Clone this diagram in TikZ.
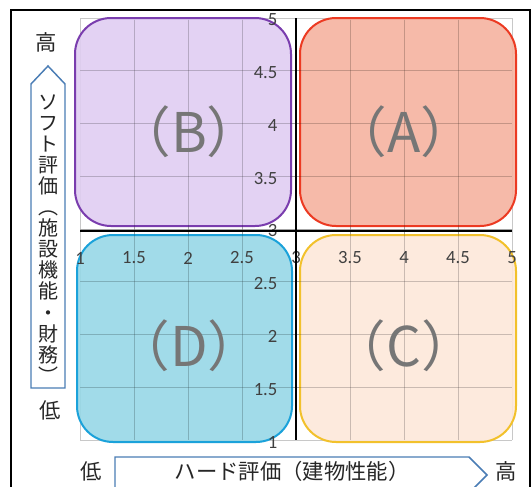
\documentclass[tikz,border=0pt]{standalone}
\usepackage{fontspec}
\setmainfont{Carlito}
\newfontfamily\jpfont{Noto Sans CJK JP}
\usetikzlibrary{positioning}

\definecolor{gridgray}{HTML}{C8C8C8}
\definecolor{tickgray}{HTML}{404040}
\definecolor{labelgray}{HTML}{767676}
\definecolor{arrowblue}{HTML}{4A7DB5}
\definecolor{fillB}{HTML}{E0CEF2}
\definecolor{lineB}{HTML}{7A3DAE}
\definecolor{fillA}{HTML}{F6B3A0}
\definecolor{lineA}{HTML}{EC3A22}
\definecolor{fillD}{HTML}{97D8E7}
\definecolor{lineD}{HTML}{1BA2DA}
\definecolor{fillC}{HTML}{FDE8DA}
\definecolor{lineC}{HTML}{F2C12C}

\begin{document}
\begin{tikzpicture}[x=0.75pt,y=-0.75pt,
    quadbox/.style={line width=1.5pt, rounded corners=27pt, fill opacity=0.9},
    gridline/.style={gridgray, line width=0.6pt},
    quadlabel/.style={text=labelgray, font=\jpfont\fontsize{41}{41}\selectfont},
    ticklabel/.style={text=tickgray, font=\fontsize{14}{14}\selectfont, inner sep=1pt},
    axisnote/.style={font=\jpfont\fontsize{15}{15.8}\selectfont, text=black!85, inner sep=0pt},
    arrowbox/.style={draw=arrowblue, line width=1.1pt, fill=white}]
  \useasboundingbox (0,0) rectangle (532,486);
  \fill[white] (0,0) rectangle (532,486);
  % outer frame
  \draw[line width=1.1pt] (11,500) -- (11,10) -- (530,10) -- (530,500);

  % grid
  \foreach \i in {0,...,8} {
    \draw[gridline] (80+54*\i,18) -- (80+54*\i,440);
    \draw[gridline] (80,18+52.75*\i) -- (512,18+52.75*\i);
  }

  % quadrants
  \draw[quadbox, draw=lineB, fill=fillB] (75,18) rectangle (291,226);
  \draw[quadbox, draw=lineA, fill=fillA] (300,18) rectangle (516,226);
  \draw[quadbox, draw=lineD, fill=fillD] (77,235) rectangle (292,442);
  \draw[quadbox, draw=lineC, fill=fillC] (300,235) rectangle (516,442);

  % grid seen through the quadrants
  \foreach \i in {1,...,7} {
    \draw[gridline, draw=black, opacity=0.18] (80+54*\i,20) -- (80+54*\i,440);
    \draw[gridline, draw=black, opacity=0.18] (80,18+52.75*\i) -- (512,18+52.75*\i);
  }

  % tick labels
  \foreach \v [count=\i from 0] in {1,1.5,2,2.5,3,3.5,4,4.5,5}
    \node[ticklabel] (xtick\i) at (80+54*\i,258) {\v};
  \foreach \v [count=\i from 0] in {5,4.5,4,3.5,3,2.5,2,1.5,1}
    \node[ticklabel, anchor=east] (ytick\i) at (279,20+52.75*\i) {\v};

  % axes
  \draw[line width=1.8pt] (80,231) -- (512,231);
  \draw[line width=1.8pt] (296,18) -- (296,440);

  % quadrant names
  \node[quadlabel] (labB) at (189,132) {（B）};
  \node[quadlabel] (labA) at (404,132) {（A）};
  \node[quadlabel] (labD) at (189,346) {（D）};
  \node[quadlabel] (labC) at (404,346) {（C）};

  % vertical axis note
  \draw[arrowbox] (31,388) -- (65,388) -- (65,84) -- (48,66) -- (31,84) -- cycle;
  \node[axisnote, align=center] (softnote) at (48,239)
    {ソ\\フ\\ト\\評\\価\\︵\\施\\設\\機\\能\\・\\財\\務\\︶};
  \node[axisnote, font=\jpfont\fontsize{16}{16}\selectfont] (yhigh) at (46,42) {高};
  \node[axisnote, font=\jpfont\fontsize{16}{16}\selectfont] (ylow) at (50,410) {低};

  % horizontal axis note
  \draw[arrowbox] (115,457) -- (469,457) -- (487,475) -- (469,493) -- (115,493) -- cycle;
  \node[axisnote, font=\jpfont\fontsize{16}{16}\selectfont] (hardnote) at (292,471) {ハード評価（建物性能）};
  \node[axisnote, font=\jpfont\fontsize{16}{16}\selectfont] (xlow) at (91,471) {低};
  \node[axisnote, font=\jpfont\fontsize{16}{16}\selectfont] (xhigh) at (506,471) {高};
\end{tikzpicture}
\end{document}
